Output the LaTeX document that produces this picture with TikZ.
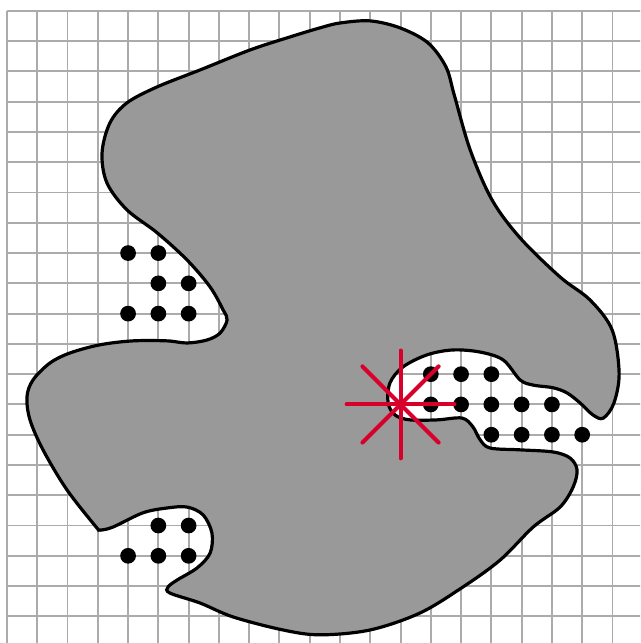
\documentclass[tikz,border=0pt]{standalone}
\usepackage{xcolor}
\usepackage{tikz}
\usetikzlibrary{positioning}
\definecolor{starred}{RGB}{215,0,42}

\begin{document}
\begin{tikzpicture}[x=0.5cm,y=0.5cm,
  gridline/.style={draw=black!33,line width=0.9pt},
  region/.style={fill=black!40,draw=black,line width=1.5pt},
  ray/.style={draw=starred,line width=1.9pt,line cap=round}]
  \useasboundingbox (-0.231,0.12) rectangle (20.91,21.36);
  \clip (-0.231,0.12) rectangle (20.91,21.36);
  % lattice in the back
  \draw[gridline,step=0.5cm] (0,-1) grid (22,21);
  % the shaded set, traced clockwise from the top
  \filldraw[region] plot[smooth cycle,tension=0.55] coordinates {
    (11.99,20.67) (12.98,20.44) (13.90,19.95) (14.50,19.15) (14.78,18.20)
    (15.30,16.41) (16.02,14.76) (16.95,13.50) (18.27,12.21) (19.26,11.45)
    (19.99,10.46) (20.22,9.04) (20.05,8.05) (19.70,7.55)
    (19.36,7.65) (18.93,8.05) (18.50,8.38) (18.04,8.55)
    (17.38,8.64) (16.95,8.81) (16.39,9.47) (15.63,9.73) (14.73,9.80) (13.88,9.64)
    (13.08,9.24) (12.65,8.71) (12.59,8.05) (12.82,7.65) (13.31,7.49)
    (14.21,7.49) (15.03,7.55) (15.39,7.26) (15.63,6.83) (15.96,6.56)
    (16.95,6.50) (18.04,6.43) (18.60,6.23) (18.83,5.84) (18.70,5.27)
    (18.27,4.61) (17.38,3.95) (16.29,2.86) (15.06,1.97) (13.64,1.11)
    (11.99,0.55) (10.34,0.39) (9.12,0.55) (7.47,0.98) (6.38,1.44)
    (5.38,1.77) (5.32,1.97) (5.62,2.20) (6.28,2.60) (6.71,3.09)
    (6.77,3.75) (6.48,4.35) (5.95,4.61) (5.29,4.58) (4.49,4.42)
    (3.50,3.95) (3.07,3.85) (2.97,3.92) (1.98,5.18) (1.19,6.50)
    (0.76,7.49) (0.66,8.25) (0.86,8.81) (1.42,9.37) (2.08,9.70)
    (3.07,9.97) (4.16,10.10) (5.29,10.10) (5.95,10.03) (6.61,10.13)
    (7.04,10.36) (7.27,10.79) (7.14,11.12) (6.71,11.88) (5.95,12.77)
    (4.96,13.67) (3.96,14.43) (3.30,15.32) (3.14,16.31) (3.40,17.30)
    (3.96,17.96) (4.96,18.49) (6.38,19.05) (8.03,19.71) (9.35,20.14)
    (10.34,20.44) (11.00,20.60)};
  % lattice points left outside
  \foreach \x/\y in {4/13,5/13,5/12,6/12,4/11,5/11,6/11,
                     5/4,6/4,4/3,5/3,6/3,
                     14/9,15/9,16/9,14/8,15/8,16/8,17/8,18/8,
                     16/7,17/7,18/7,19/7}
    \fill (\x,\y) circle (0.26);
  % the star at the boundary point
  \coordinate (c) at (13,8);
  \foreach \a in {0,45,...,315}
    \draw[ray] (c) -- ++(\a:1.78);
\end{tikzpicture}
\end{document}
